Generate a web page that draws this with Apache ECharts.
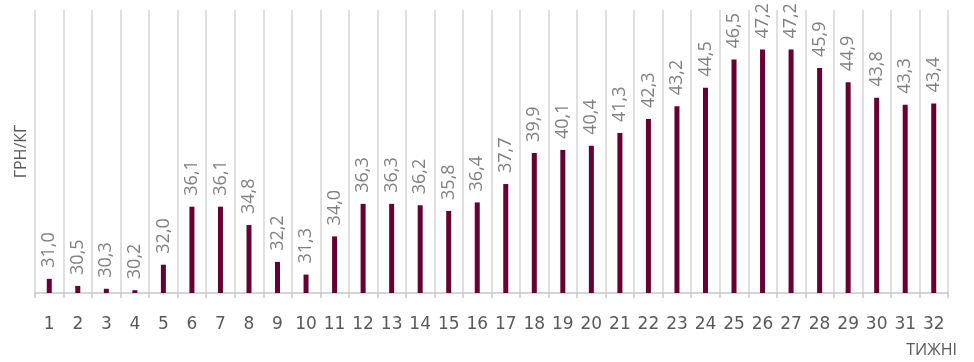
<!DOCTYPE html>
<html>
<head>
<meta charset="utf-8">
<script src="https://cdn.jsdelivr.net/npm/echarts@6/dist/echarts.min.js"></script>
<style>html,body{margin:0;padding:0;background:#fff}#c{width:974px;height:362px}</style>
</head>
<body>
<div id="c"></div>
<script>
const weeks = ['1','2','3','4','5','6','7','8','9','10','11','12','13','14','15','16','17','18','19','20','21','22','23','24','25','26','27','28','29','30','31','32'];
const prices = [31.0,30.5,30.3,30.2,32.0,36.1,36.1,34.8,32.2,31.3,34.0,36.3,36.3,36.2,35.8,36.4,37.7,39.9,40.1,40.4,41.3,42.3,43.2,44.5,46.5,47.2,47.2,45.9,44.9,43.8,43.3,43.4];
const yTitle = 'ГРН/КГ';
const xTitle = 'ТИЖНІ';

const chart = echarts.init(document.getElementById('c'), null, {renderer:'canvas'});
chart.setOption({
  animation: false,
  textStyle: {fontFamily: 'Open Sans'},
  grid: {left: 35, right: 26, top: 10, bottom: 69},
  xAxis: {
    type: 'category',
    data: weeks,
    name: xTitle,
    nameLocation: 'end',
    nameGap: 9,
    nameTextStyle: {color:'#595959', fontSize: 16, fontFamily:'Open Sans', align:'right', verticalAlign:'top', padding:[49,0,0,0]},
    axisLine: {lineStyle: {color:'#c8c8c8', width: 1.5}},
    axisTick: {show: true, length: 5, lineStyle:{color:'#c8c8c8', width:1.5}},
    axisLabel: {color:'#595959', fontSize: 17, fontFamily:'DejaVu Sans', margin: 23},
    splitLine: {show: true, lineStyle: {color:'#d6d6d6', width: 1.5}}
  },
  yAxis: {
    type: 'value',
    min: 30, max: 50,
    name: yTitle,
    nameLocation: 'middle',
    nameRotate: 90,
    nameGap: 6,
    nameTextStyle: {color:'#595959', fontSize: 16, fontFamily:'Open Sans'},
    axisLine: {show:false},
    axisTick: {show:false},
    axisLabel: {show:false},
    splitLine: {show:false}
  },
  series: [{
    type: 'bar',
    data: prices,
    barWidth: 5,
    itemStyle: {color:'#660033'},
    label: {
      show: true,
      position: 'top',
      rotate: 90,
      align: 'left',
      verticalAlign: 'middle',
      distance: 11,
      color: '#808080',
      fontSize: 18,
      fontFamily: 'Open Sans',
      formatter: p => p.value.toFixed(1).replace('.', ',')
    }
  }]
});
</script>
</body>
</html>
